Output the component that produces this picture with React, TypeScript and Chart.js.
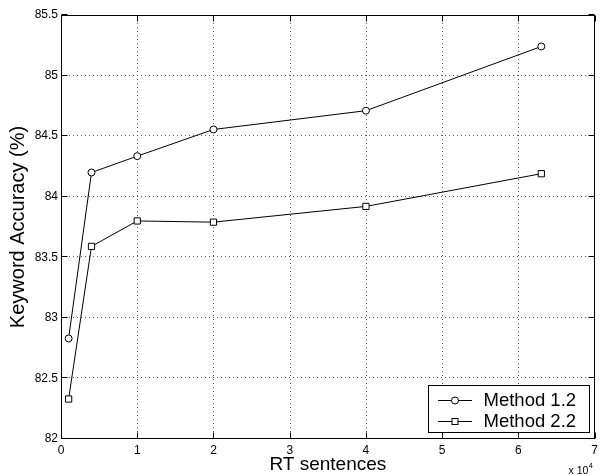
import React, { useEffect, useRef } from "react";
import { Chart, registerables } from "chart.js";

Chart.register(...registerables);

// ---- data ----
const xValues = [1000, 4000, 10000, 20000, 40000, 63000];
const method12 = [82.83, 84.2, 84.335, 84.555, 84.71, 85.24];
const method22 = [82.33, 83.59, 83.8, 83.79, 83.92, 84.19];
const seriesLabels = ["Method 1.2", "Method 2.2"];
const xAxisTitle = "RT sentences";
const yAxisTitle = "Keyword Accuracy (%)";
const xExponentBase = "x 10";
const xExponentPower = "4";
const xMin = 0;
const xMax = 70000;
const xStep = 10000;
const yMin = 82;
const yMax = 85.5;
const yStep = 0.5;

const FONT = "'Liberation Sans', Arial, Helvetica, sans-serif";

const matlabPlugin = {
  id: "matlabFrame",
  beforeDatasetsDraw(chart: any) {
    const { ctx, chartArea: a, scales } = chart;
    ctx.save();
    ctx.strokeStyle = "#5a5a5a";
    ctx.lineWidth = 1;
    ctx.setLineDash([1, 3]);
    scales.x.ticks.forEach((t: any) => {
      const px = Math.round(scales.x.getPixelForValue(t.value)) + 0.5;
      if (px <= a.left + 1 || px >= a.right - 1) return;
      ctx.beginPath();
      ctx.moveTo(px, a.top);
      ctx.lineTo(px, a.bottom);
      ctx.stroke();
    });
    scales.y.ticks.forEach((t: any) => {
      const py = Math.round(scales.y.getPixelForValue(t.value)) - 0.5;
      if (py <= a.top + 1 || py >= a.bottom - 1) return;
      ctx.beginPath();
      ctx.moveTo(a.left, py);
      ctx.lineTo(a.right, py);
      ctx.stroke();
    });
    ctx.restore();
  },
  afterDatasetsDraw(chart: any) {
    const { ctx, chartArea: a, scales } = chart;
    const L = Math.round(a.left) + 0.5;
    const R = Math.round(a.right) - 0.5;
    const T = Math.round(a.top) + 0.5;
    const B = Math.round(a.bottom) - 0.5;
    ctx.save();
    ctx.strokeStyle = "#000";
    ctx.lineWidth = 1;
    ctx.setLineDash([]);
    // inner ticks
    const tl = 6;
    scales.x.ticks.forEach((t: any) => {
      const px = Math.round(scales.x.getPixelForValue(t.value)) + 0.5;
      ctx.beginPath();
      ctx.moveTo(px, B);
      ctx.lineTo(px, B - tl);
      ctx.moveTo(px, T);
      ctx.lineTo(px, T + tl);
      ctx.stroke();
    });
    scales.y.ticks.forEach((t: any) => {
      const py = Math.round(scales.y.getPixelForValue(t.value)) - 0.5;
      ctx.beginPath();
      ctx.moveTo(L, py);
      ctx.lineTo(L + tl, py);
      ctx.moveTo(R, py);
      ctx.lineTo(R - tl, py);
      ctx.stroke();
    });
    // box
    ctx.strokeRect(L, T, R - L, B - T);

    // legend
    const lw = 161;
    const lh = 47;
    const lx = R - 5 - lw;
    const ly = B - 6 - lh;
    ctx.fillStyle = "#fff";
    ctx.fillRect(lx, ly, lw, lh);
    ctx.strokeRect(lx, ly, lw, lh);
    const rows = [ly + 14, ly + 35.5];
    chart.data.datasets.forEach((ds: any, i: number) => {
      const cy = Math.round(rows[i]) + 0.5;
      const x0 = lx + 9.5;
      const x1 = lx + 43.5;
      const mx = (x0 + x1) / 2;
      ctx.beginPath();
      ctx.moveTo(x0, cy);
      ctx.lineTo(x1, cy);
      ctx.stroke();
      ctx.fillStyle = "#fff";
      if (ds.pointStyle === "rect") {
        ctx.fillRect(mx - 3, cy - 3, 6, 6);
        ctx.strokeRect(mx - 3, cy - 3, 6, 6);
      } else {
        ctx.beginPath();
        ctx.arc(mx, cy, 3.5, 0, Math.PI * 2);
        ctx.fill();
        ctx.stroke();
      }
      ctx.fillStyle = "#000";
      ctx.font = `18.5px ${FONT}`;
      ctx.textAlign = "left";
      ctx.textBaseline = "middle";
      ctx.fillText(ds.label, lx + 55, cy + 0.5);
    });

    // exponent label
    ctx.fillStyle = "#000";
    ctx.textAlign = "left";
    ctx.textBaseline = "alphabetic";
    ctx.font = `10.5px ${FONT}`;
    const baseW = ctx.measureText(xExponentBase).width;
    const ex = R - 26;
    ctx.fillText(xExponentBase, ex, 474);
    ctx.font = `7.5px ${FONT}`;
    ctx.fillText(xExponentPower, ex + baseW + 0.5, 467.5);
    ctx.restore();
  },
};

export default function App() {
  const canvasRef = useRef<HTMLCanvasElement | null>(null);

  useEffect(() => {
    document.body.style.margin = "0";
    const canvas = canvasRef.current;
    if (!canvas) return;
    Chart.defaults.font.family = FONT;
    Chart.defaults.color = "#000";

    const chart = new Chart(canvas, {
      type: "line",
      data: {
        datasets: [
          {
            label: seriesLabels[0],
            data: xValues.map((x, i) => ({ x, y: method12[i] })),
            borderColor: "#000",
            borderWidth: 1,
            backgroundColor: "#fff",
            pointStyle: "circle",
            pointRadius: 3.5,
            pointBorderWidth: 1,
            pointBorderColor: "#000",
            pointBackgroundColor: "#fff",
            tension: 0,
          },
          {
            label: seriesLabels[1],
            data: xValues.map((x, i) => ({ x, y: method22[i] })),
            borderColor: "#000",
            borderWidth: 1,
            backgroundColor: "#fff",
            pointStyle: "rect",
            pointRadius: 4.4,
            pointBorderWidth: 1,
            pointBorderColor: "#000",
            pointBackgroundColor: "#fff",
            tension: 0,
          },
        ],
      },
      options: {
        responsive: false,
        animation: false,
        devicePixelRatio: 1,
        layout: { padding: { top: 15, right: 2, left: 0, bottom: 0 } },
        plugins: {
          legend: { display: false },
          tooltip: { enabled: false },
          title: { display: false },
        },
        scales: {
          x: {
            type: "linear",
            min: xMin,
            max: xMax,
            grid: { display: false, drawTicks: false },
            border: { display: false },
            ticks: {
              stepSize: xStep,
              padding: 4,
              maxRotation: 0,
              autoSkip: false,
              font: { size: 12 },
              color: "#000",
              callback: (v: any) => String(Number(v) / 10000),
            },
            title: {
              display: true,
              text: xAxisTitle,
              font: { size: 19, lineHeight: 1 },
              color: "#000",
              padding: { top: 0, bottom: 0.5 },
            },
            afterFit: (scale: any) => {
              scale.height = 36;
            },
          },
          y: {
            type: "linear",
            min: yMin,
            max: yMax,
            grid: { display: false, drawTicks: false },
            border: { display: false },
            ticks: {
              stepSize: yStep,
              padding: 3,
              autoSkip: false,
              font: { size: 12 },
              color: "#000",
              callback: (v: any) => String(Math.round(Number(v) * 10) / 10),
            },
            title: {
              display: true,
              text: yAxisTitle,
              font: { size: 20, lineHeight: 1 },
              color: "#000",
              padding: { top: 8, bottom: 0 },
            },
            afterFit: (scale: any) => {
              scale.width = 61;
            },
          },
        },
      },
      plugins: [matlabPlugin],
    });
    return () => chart.destroy();
  }, []);

  return (
    <canvas
      ref={canvasRef}
      width={602}
      height={475}
      style={{ display: "block", width: 602, height: 475 }}
    />
  );
}
